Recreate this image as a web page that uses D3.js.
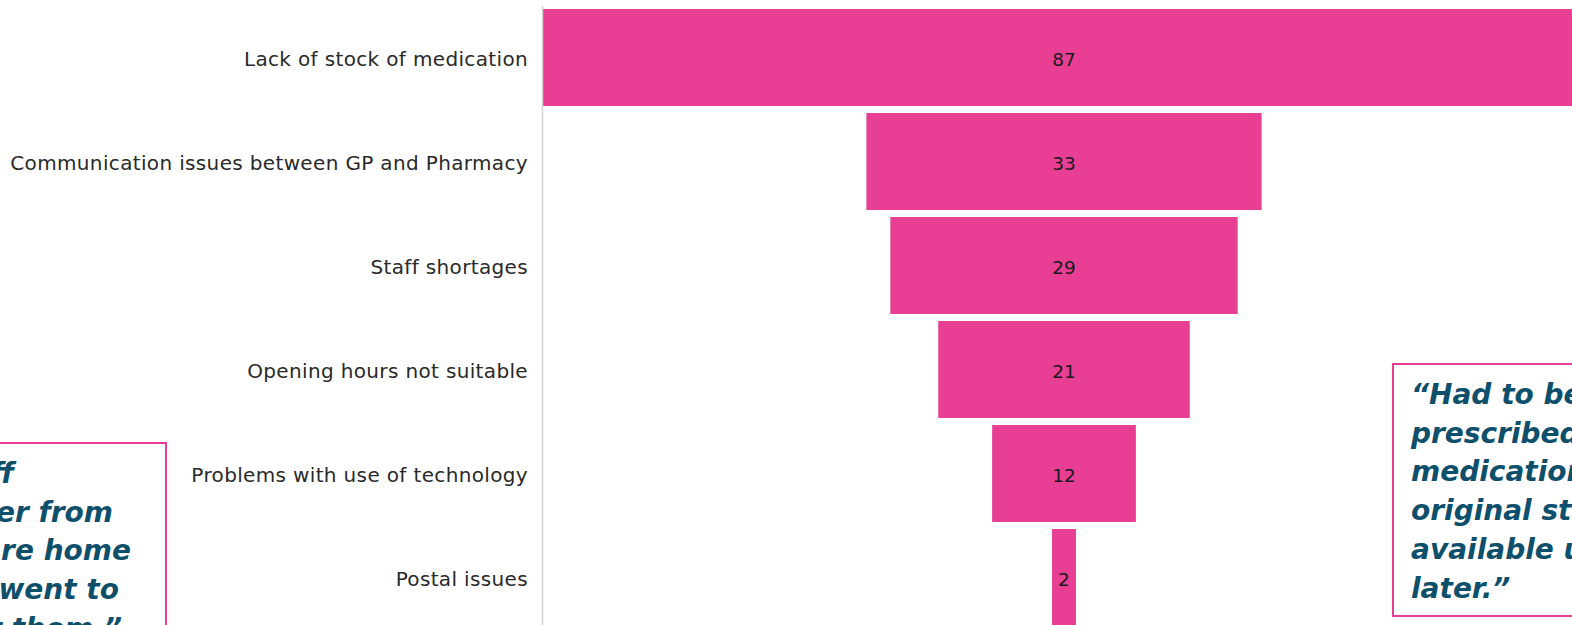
<!DOCTYPE html>
<html>
<head>
<meta charset="utf-8">
<script src="https://cdn.jsdelivr.net/npm/d3@7"></script>
<style>
  html, body { margin: 0; padding: 0; background: #ffffff; overflow: hidden; }
  svg { display: block; }
</style>
</head>
<body>
<svg id="chart" width="1572" height="625"></svg>
<script>
// Reasons for problems getting medication (number of mentions)
const categories = [
  "Lack of stock of medication",
  "Communication issues between GP and Pharmacy",
  "Staff shortages",
  "Opening hours not suitable",
  "Problems with use of technology",
  "Postal issues"
];
const counts = [87, 33, 29, 21, 12, 2];

// Quotes shown beside the funnel
const quoteLeft = ["\u201CA staff", "member from", "the care home", "staff went to", "collect them.\u201D"];
const quoteRight = ["\u201CHad to be", "prescribed new", "medication as", "original still not", "available until", "later.\u201D"];

const PINK = "#E83E94";
const TEAL = "#0E4F6C";
const LABEL_FONT = "'DejaVu Sans', 'Noto Sans', sans-serif";
const QUOTE_FONT = "'DejaVu Sans', sans-serif";

const svg = d3.select("#chart");

const axisX = 542;
const centerX = 1064;

// Bar width proportional to count, bars centred on a common axis (funnel)
const w = d3.scaleLinear().domain([0, 87]).range([0, 1042]);
const y = d3.scaleBand()
  .domain(categories)
  .range([5.5, 629.5])
  .paddingInner(0.0673)
  .paddingOuter(0.0337);

const data = categories.map((c, i) => ({ cat: c, v: counts[i] }));

// Bars
svg.append("g").selectAll("rect")
  .data(data)
  .join("rect")
  .attr("x", d => centerX - w(d.v) / 2)
  .attr("y", d => y(d.cat))
  .attr("width", d => w(d.v))
  .attr("height", y.bandwidth())
  .attr("fill", PINK);

// Value labels
svg.append("g").selectAll("text")
  .data(data)
  .join("text")
  .attr("x", centerX)
  .attr("y", d => y(d.cat) + y.bandwidth() / 2)
  .attr("dy", "0.45em")
  .attr("text-anchor", "middle")
  .attr("font-family", LABEL_FONT)
  .attr("font-size", 18.5)
  .attr("fill", "#1a1a1a")
  .text(d => d.v);

// Category axis
const axis = svg.append("g")
  .attr("transform", `translate(${axisX},0)`)
  .call(d3.axisLeft(y).tickSize(0).tickSizeOuter(0).tickPadding(14));
axis.select(".domain").attr("stroke", "#d4d4d4").attr("stroke-width", 1.5);
axis.selectAll(".tick text")
  .attr("dy", "0.42em")
  .attr("font-family", LABEL_FONT)
  .attr("font-size", 20)
  .attr("letter-spacing", "0.35px")
  .attr("fill", "#2a2a2a");

// Quote box with one tspan per line; lineX gives each line's left x
function quoteBox(x, yTop, width, height, lines, lineX) {
  const g = svg.append("g");
  g.append("rect")
    .attr("x", x).attr("y", yTop)
    .attr("width", width).attr("height", height)
    .attr("fill", "#ffffff")
    .attr("stroke", PINK)
    .attr("stroke-width", 2);
  const t = g.append("text")
    .attr("font-family", QUOTE_FONT)
    .attr("font-weight", "bold")
    .attr("font-style", "italic")
    .attr("font-size", 28)
    .attr("fill", TEAL);
  lines.forEach((ln, i) => {
    t.append("tspan")
      .attr("x", lineX(ln, i))
      .attr("y", yTop + 40 + i * 38.7)
      .text(ln);
  });
  return t;
}

function quoteWidth(s) {
  const probe = svg.append("text")
    .attr("font-family", QUOTE_FONT).attr("font-weight", "bold")
    .attr("font-style", "italic").attr("font-size", 28)
    .text(s);
  const len = probe.node().getComputedTextLength();
  probe.remove();
  return len;
}

// Left quote: box runs off the left edge of the page, text set against its right side
const leftEnds = [14, 113, 131, 119, 122];
quoteBox(-400, 443, 566, 300, quoteLeft, (ln, i) => leftEnds[i] - quoteWidth(ln));

// Right quote: box runs off the right edge of the page
quoteBox(1393, 364, 300, 252, quoteRight, () => 1411);
</script>
</body>
</html>
